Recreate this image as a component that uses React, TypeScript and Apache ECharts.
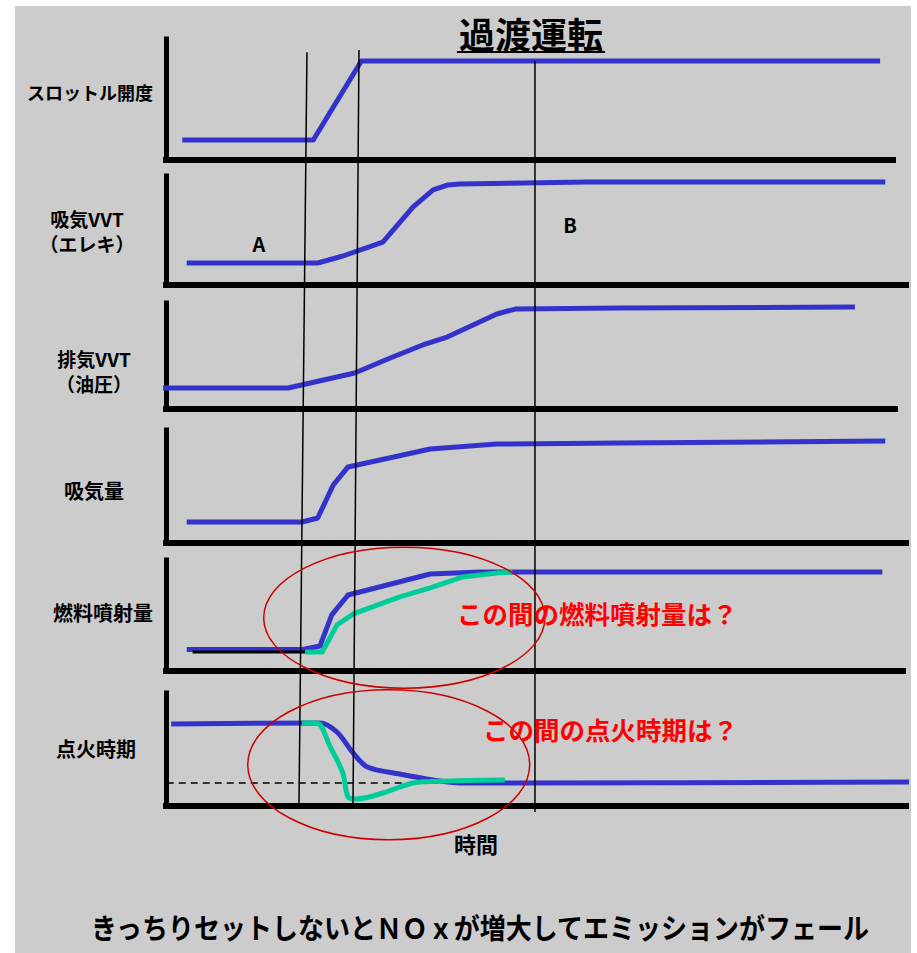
import React, { useEffect, useRef } from "react";
import * as echarts from "echarts";

// ---------- data (time units 0..100, value units 0..100 per panel) ----------
const throttleData = [[2.2, 16.5], [19.9, 16.5], [26.4, 81.8], [96.5, 81.8]];
const intakeVvtData = [[2.8, 20.2], [20.5, 20.2], [23.9, 26.6], [29.3, 39.4], [33.4, 71.6], [36.1, 87.2], [38.0, 91.7], [39.7, 92.7], [56.9, 94.5], [97.2, 94.5]];
const exhaustVvtData = [[-1.2, 19.8], [16.5, 19.8], [25.5, 34.0], [30.3, 48.1], [34.7, 60.4], [38.0, 67.9], [44.7, 89.6], [47.2, 94.3], [61.4, 95.3], [93.1, 96.2]];
const airflowData = [[2.8, 18.6], [18.4, 18.6], [20.5, 22.1], [22.6, 51.3], [24.6, 67.3], [35.7, 83.2], [44.7, 87.6], [61.4, 88.5], [97.2, 90.3]];
const fuelBlueData = [[2.8, 19.4], [18.5, 19.4], [20.8, 22.5], [22.4, 50.5], [24.6, 68.5], [35.7, 87.4], [42.4, 89.2], [96.8, 89.2]];
const fuelBaseData = [[3.6, 17.1], [18.8, 17.1]];
const fuelGreenData = [[18.8, 17.1], [21.1, 17.1], [23.1, 41.4], [25.3, 51.4], [31.6, 66.7], [35.7, 74.8], [40.1, 84.7], [44.7, 88.3], [46.8, 89.2]];
const sparkBlueData = [[0.7, 72.6], [20.8, 73.5], [23.1, 65.5], [25.3, 46.9], [27.2, 34.5], [31.6, 28.3], [36.1, 23.0], [39.7, 20.4], [46.9, 20.4], [100.5, 21.2]];
const sparkGreenData = [[18.4, 73.5], [20.4, 73.5], [22.2, 52.2], [23.9, 29.2], [24.6, 8.0], [25.8, 6.2], [29.3, 11.5], [33.4, 20.4], [38.0, 22.1], [45.8, 23.0]];
const sparkTargetData = [[0.1, 20.4], [100.7, 20.4]];

// vertical marker lines on the full-height overlay (time, height 0..100)
const markerLineA = [[19.05, 99.7], [17.97, 0.9]];
const markerLineB = [[26.08, 100], [25.27, 0.9]];
const markerLineC = [[49.86, 98.6], [49.86, 0]];

// ellipses on overlay: [centerTime, centerHeight, radiusTime, radiusHeight]
const ellipseData = [[32.2, 25.5, 19.0, 9.25], [30.1, 6.2, 19.05, 9.84]];

// ---------- texts ----------
const titleText = "過渡運転";
const panelLabels = [["スロットル開度"], ["吸気VVT", "（エレキ）"], ["排気VVT", "（油圧）"], ["吸気量"], ["燃料噴射量"], ["点火時期"]];
const regionLabels = ["A", "B"];
const questionTexts = ["この間の燃料噴射量は？", "この間の点火時期は？"];
const xAxisName = "時間";
const footerText = "きっちりセットしないとＮＯｘが増大してエミッションがフェール";

// ---------- layout ----------
const W = 917;
const H = 953;
const AXIS_X = 166;
const PX_PER_T = 7.4;
const PANELS = [
  { top: 39, bottom: 160, end: 893 },
  { top: 176, bottom: 285, end: 906 },
  { top: 303, bottom: 409, end: 895 },
  { top: 430, bottom: 543, end: 906 },
  { top: 560, bottom: 671, end: 903 },
  { top: 693, bottom: 806, end: 906 },
];
const OVERLAY = { top: 50, bottom: 812, end: 906 };
const FONT = '"Noto Sans CJK JP", "Noto Sans", sans-serif';
const BLUE = "#3333cc";
const GREEN = "#00cc99";

const labelPos = [
  { x: 90, y: 92, size: 18 },
  { x: 87, y: 230.5, size: 19 },
  { x: 94, y: 370.5, size: 19 },
  { x: 94, y: 490, size: 20 },
  { x: 103, y: 612, size: 20 },
  { x: 96, y: 748, size: 20 },
];

export default function App() {
  const ref = useRef<HTMLDivElement>(null);
  useEffect(() => {
    if (!ref.current) return;
    const chart = echarts.init(ref.current, null, { renderer: "svg", width: W, height: H });

    const grids: any[] = PANELS.map((p) => ({
      left: AXIS_X,
      top: p.top,
      width: p.end - AXIS_X,
      height: p.bottom - p.top,
    }));
    grids.push({ left: AXIS_X, top: OVERLAY.top, width: OVERLAY.end - AXIS_X, height: OVERLAY.bottom - OVERLAY.top });

    const xAxes: any[] = PANELS.map((p, i) => ({
      type: "value",
      gridIndex: i,
      min: 0,
      max: (p.end - AXIS_X) / PX_PER_T,
      axisLine: { show: true, onZero: false, lineStyle: { color: "#000", width: 6, cap: "square" } },
      axisTick: { show: false },
      axisLabel: { show: false },
      splitLine: { show: false },
    }));
    xAxes.push({ type: "value", gridIndex: 6, min: 0, max: (OVERLAY.end - AXIS_X) / PX_PER_T, show: false });

    const yAxes: any[] = PANELS.map((_, i) => ({
      type: "value",
      gridIndex: i,
      min: 0,
      max: 100,
      axisLine: { show: true, onZero: false, lineStyle: { color: "#000", width: 5, cap: "square" } },
      axisTick: { show: false },
      axisLabel: { show: false },
      splitLine: { show: false },
    }));
    yAxes.push({ type: "value", gridIndex: 6, min: 0, max: 100, show: false });

    const line = (idx: number, data: number[][], color: string, width: number, z: number, extra: any = {}, smooth: any = false) => ({
      type: "line",
      xAxisIndex: idx,
      yAxisIndex: idx,
      data,
      symbol: "none",
      showSymbol: false,
      clip: false,
      silent: true,
      smooth,
      z,
      lineStyle: { color, width, cap: "butt", join: "round", ...extra },
    });

    const series: any[] = [
      line(0, throttleData, BLUE, 5, 3),
      line(1, intakeVvtData, BLUE, 5, 3),
      line(2, exhaustVvtData, BLUE, 5, 3),
      line(3, airflowData, BLUE, 5, 3),
      line(4, fuelBlueData, BLUE, 5, 3),
      line(4, fuelBaseData, "#000", 3, 4),
      line(4, fuelGreenData, GREEN, 5, 4),
      line(5, sparkTargetData, "#000", 1.5, 2, { type: [7, 5] }),
      line(5, sparkBlueData, BLUE, 5, 3, {}, 0.3),
      line(5, sparkGreenData, GREEN, 5, 4, {}, 0.3),
      line(6, markerLineA, "#000", 1.5, 5),
      line(6, markerLineB, "#000", 1.5, 5),
      line(6, markerLineC, "#000", 1.5, 5),
      {
        type: "custom",
        xAxisIndex: 6,
        yAxisIndex: 6,
        data: ellipseData,
        clip: false,
        silent: true,
        z: 6,
        encode: { x: 0, y: 1 },
        renderItem: (_params: any, api: any) => {
          const c = api.coord([api.value(0), api.value(1)]);
          const s = api.size([api.value(2), api.value(3)], [api.value(0), api.value(1)]);
          return {
            type: "ellipse",
            shape: { cx: c[0], cy: c[1], rx: s[0], ry: s[1] },
            style: { fill: "none", stroke: "#cc0000", lineWidth: 1.5 },
          };
        },
      },
    ];

    const txt = (text: string, x: number, y: number, size: number, opts: any = {}) => ({
      type: "text",
      x,
      y,
      z: 100,
      silent: true,
      style: {
        text,
        fontFamily: FONT,
        fontSize: size,
        fontWeight: "bold",
        fill: "#000",
        align: "center",
        verticalAlign: "middle",
        lineHeight: size,
        ...opts,
      },
    });

    const graphics: any[] = [
      { type: "rect", z: -100, silent: true, shape: { x: 15, y: 6, width: 896, height: H - 6 }, style: { fill: "#cccccc" } },
      txt(titleText, 531, 33, 36),
      { type: "line", z: 100, silent: true, shape: { x1: 457, y1: 52, x2: 605, y2: 52 }, style: { stroke: "#000", lineWidth: 2 } },
    ];

    panelLabels.forEach((lines, i) => {
      const p: any = labelPos[i];
      const lh = lines.length > 1 ? 25 : p.size;
      graphics.push(txt(lines.join("\n"), p.x, p.y, p.size, { lineHeight: lh }));
    });

    graphics.push(txt(regionLabels[0], 259, 243, 20));
    graphics.push(txt(regionLabels[1], 570, 224, 20));
    graphics.push(txt(questionTexts[0], 457, 612, 25.5, { fill: "#ff0000", align: "left" }));
    graphics.push(txt(questionTexts[1], 483, 728, 25.5, { fill: "#ff0000", align: "left" }));
    graphics.push(txt(xAxisName, 476, 843, 22));
    graphics.push({ ...txt(footerText, 480, 926, 26), scaleY: 1.1, originX: 0, originY: 0 });

    chart.setOption({
      animation: false,
      backgroundColor: "#ffffff",
      grid: grids,
      xAxis: xAxes,
      yAxis: yAxes,
      series,
      graphic: { elements: graphics },
    });
    return () => chart.dispose();
  }, []);

  return <div ref={ref} style={{ position: "absolute", left: 0, top: 0, width: W, height: H }} />;
}
